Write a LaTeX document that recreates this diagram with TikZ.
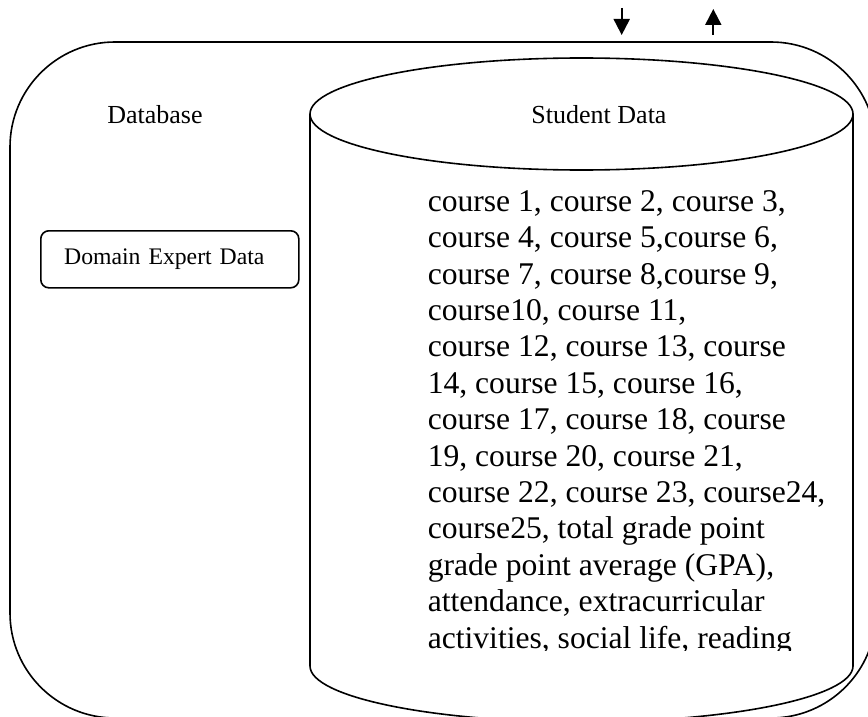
\documentclass[tikz,border=0pt]{standalone}
\usepackage{fontspec}
\setmainfont{Liberation Serif}
\usetikzlibrary{arrows.meta}

\begin{document}
\begin{tikzpicture}[x=0.75pt,y=-0.75pt,line width=1.2pt,>={Triangle[width=12pt,length=12pt]},
  title/.style={inner sep=0pt,anchor=base,font=\fontsize{19.5pt}{23pt}\selectfont},
  databox/.style={draw,rounded corners=6pt,anchor=north west,minimum width=193.5pt,
    minimum height=42.75pt,text width=158.5pt,inner xsep=17.5pt,inner ysep=0pt,align=left,
    font=\fontsize{17.8pt}{21pt}\selectfont}]
  \useasboundingbox (0,0) rectangle (868,717);
  \clip (0,0) rectangle (868,717);
  % outer database frame
  \draw[rounded corners=78.75pt] (10,42) rectangle (876,718);
  % cylinder for the student data
  \draw (310,114) -- (310,666) arc[start angle=180,end angle=0,x radius=271.5,y radius=56]
    -- (853,114);
  \draw (581.5,114) ellipse[x radius=271.5,y radius=56];
  % labels
  \node[title] (db) at (155,123.3) {Database};
  \node[title] (student) at (599,123.3) {Student Data};
  \node[databox] (expert) at (40,230) {Domain Expert Data};
  % course list, cut off at the bottom
  \begin{scope}
    \clip (300,0) rectangle (868,650);
    \node[anchor=north west,align=left,inner sep=0pt,font=\fontsize{23.7pt}{27.3pt}\selectfont]
      (courses) at (427,189.6) {course 1, course 2, course 3,\\
      course 4, course 5,course 6,\\
      course 7, course 8,course 9,\\
      course10, course 11,\\
      course 12, course 13, course\\
      14, course 15, course 16,\\
      course 17, course 18, course\\
      19, course 20, course 21,\\
      course 22, course 23, course24,\\
      course25, total grade point\\
      grade point average (GPA),\\
      attendance, extracurricular\\
      activities, social life, reading};
  \end{scope}
  % in and out arrows
  \coordinate (inTail) at (621.7,8);
  \coordinate (inTip) at (621.7,35);
  \coordinate (outTail) at (713.3,35);
  \coordinate (outTip) at (713.3,9);
  \draw[->,line width=1.5pt] (inTail) -- (inTip);
  \draw[->,line width=1.5pt] (outTail) -- (outTip);
\end{tikzpicture}
\end{document}
